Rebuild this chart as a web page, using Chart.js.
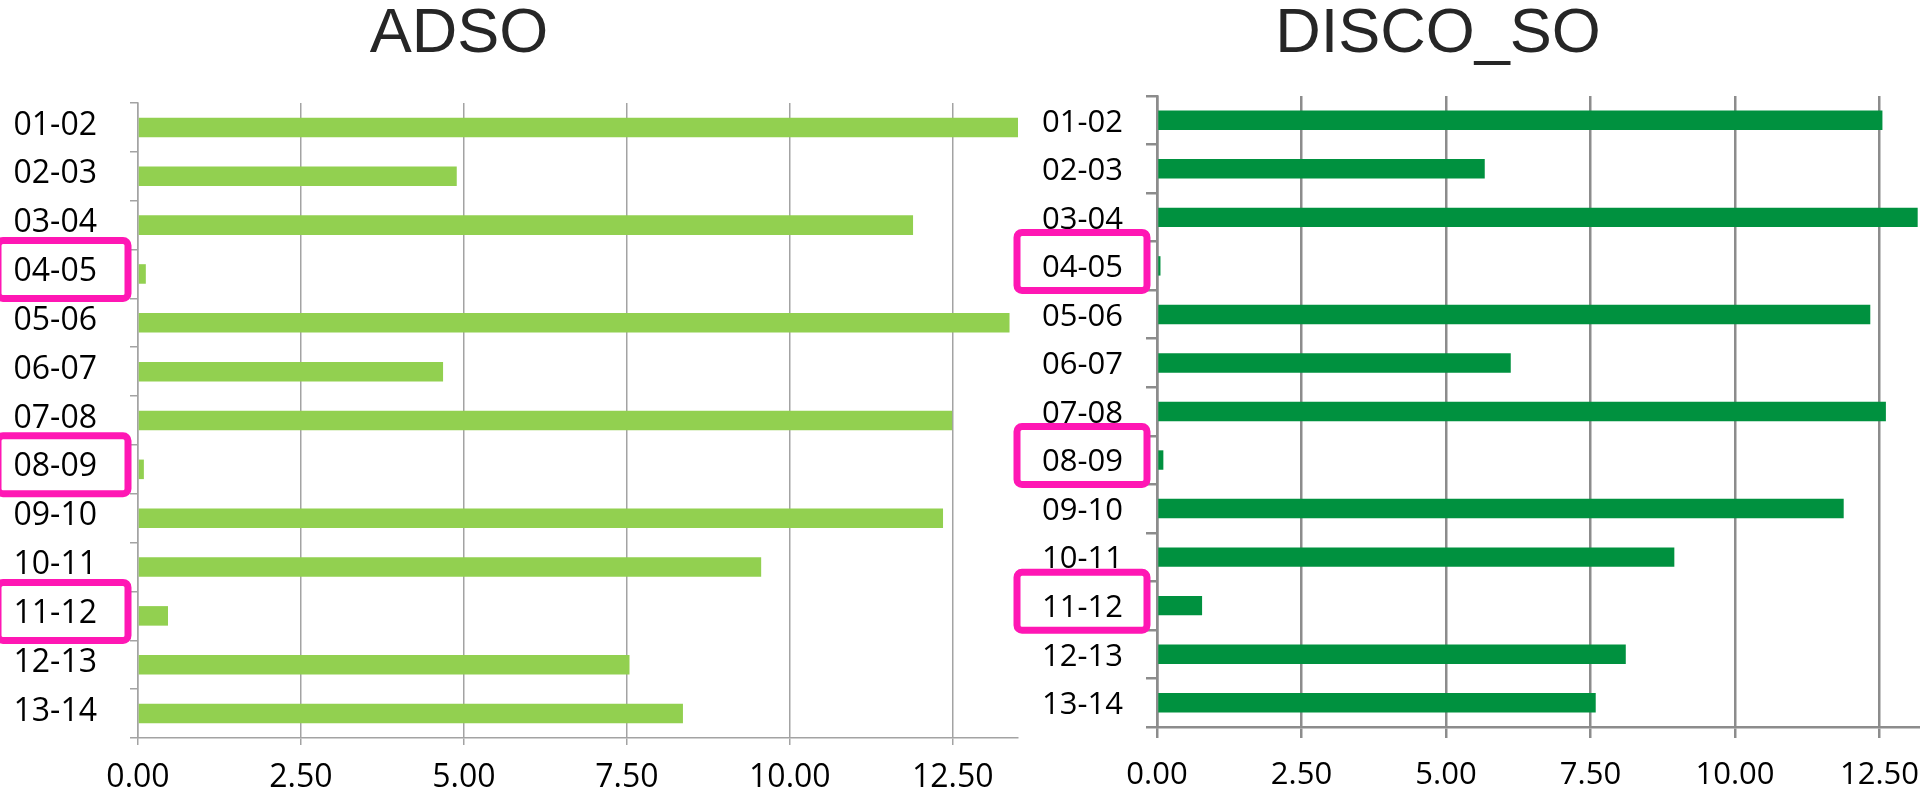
<!DOCTYPE html>
<html>
<head>
<meta charset="utf-8">
<script src="https://cdn.jsdelivr.net/npm/chart.js@4.4.1/dist/chart.umd.min.js"></script>
<style>
  html, body { margin: 0; padding: 0; background: #ffffff; width: 1920px; height: 792px; overflow: hidden; }
  .panel { position: absolute; top: 0; height: 792px; }
  #panelA { left: -100px; width: 1130px; }
  #panelB { left: 956px; width: 964px; }
</style>
</head>
<body>
<div class="panel" id="panelA"><canvas id="adsoChart" width="1130" height="792"></canvas></div>
<div class="panel" id="panelB"><canvas id="discoChart" width="964" height="792"></canvas></div>
<script>
// School years shown on both panels
const periods = ['01-02', '02-03', '03-04', '04-05', '05-06', '06-07', '07-08',
                 '08-09', '09-10', '10-11', '11-12', '12-13', '13-14'];

// Yearly values per series
const adsoValues  = [13.51, 4.89, 11.89, 0.12, 13.37, 4.68, 12.49, 0.09, 12.35, 9.56, 0.46, 7.54, 8.36];
const discoValues = [12.55, 5.67, 13.16, 0.06, 12.34, 6.12, 12.61, 0.11, 11.88, 8.95, 0.78, 8.11, 7.59];

// Value-axis tick labels
const valueTicks = [0, 2.5, 5, 7.5, 10, 12.5];

// Years outlined on both panels
const flaggedPeriods = ['04-05', '08-09', '11-12'];

Chart.defaults.font.family = "'Open Sans', sans-serif";
Chart.defaults.color = '#000000';

// Outlines selected category labels with a rounded frame
const flagBoxes = {
  id: 'flagBoxes',
  afterDraw(chart, args, opts) {
    const { ctx, chartArea } = chart;
    const y = chart.scales.y;
    const lw = opts.lineWidth;
    ctx.save();
    ctx.strokeStyle = opts.color;
    ctx.lineWidth = lw;
    ctx.lineJoin = 'round';
    opts.labels.forEach(lbl => {
      const i = chart.data.labels.indexOf(lbl);
      if (i < 0) return;
      const cy = y.getPixelForValue(i);
      const right = chartArea.left - opts.gap;
      const left = right - opts.width;
      const top = cy - opts.above;
      ctx.beginPath();
      ctx.roundRect(left + lw / 2, top + lw / 2, opts.width - lw, opts.height - lw, opts.radius);
      ctx.stroke();
    });
    ctx.restore();
  }
};

function makePanel(canvasId, title, values, s) {
  return new Chart(document.getElementById(canvasId), {
    type: 'bar',
    data: {
      labels: periods,
      datasets: [{
        label: title,
        data: values,
        backgroundColor: s.barColor,
        borderWidth: 0,
        categoryPercentage: 1,
        barPercentage: 0.4
      }]
    },
    options: {
      indexAxis: 'y',
      responsive: false,
      animation: false,
      layout: { padding: { left: 0, top: 0, bottom: 0, right: s.rightPad } },
      plugins: {
        legend: { display: false },
        tooltip: { enabled: false },
        title: {
          display: true,
          text: title,
          color: '#262626',
          font: { family: "'Liberation Sans', Arial, sans-serif", size: 63, weight: 'normal', lineHeight: 1 },
          padding: { top: 3, bottom: s.titleGap }
        },
        flagBoxes: {
          labels: flaggedPeriods,
          color: '#FF17B4',
          lineWidth: 7,
          width: 137,
          height: 65,
          above: 37,
          gap: 6.5,
          radius: 5
        }
      },
      scales: {
        x: {
          type: 'linear',
          min: 0,
          max: s.xMax,
          bounds: 'data',
          afterBuildTicks(scale) { scale.ticks = valueTicks.map(v => ({ value: v })); },
          afterFit(scale) {
            scale.height = s.xAxisHeight;
            scale.paddingLeft = 0;
            scale.paddingRight = 0;
          },
          grid: {
            color: s.gridColor,
            lineWidth: s.gridWidth,
            drawTicks: true,
            tickLength: s.xTickLen,
            tickColor: s.gridColor
          },
          border: { display: true, color: s.gridColor, width: s.gridWidth },
          ticks: {
            padding: s.xTickPad,
            maxRotation: 0,
            autoSkip: false,
            font: { size: s.xFont },
            color: '#000000',
            callback: v => Number(v).toFixed(2)
          }
        },
        y: {
          type: 'category',
          afterFit(scale) {
            scale.width = s.yAxisWidth;
            scale.paddingTop = 0;
            scale.paddingBottom = 0;
          },
          grid: {
            offset: true,
            drawOnChartArea: false,
            drawTicks: true,
            tickLength: s.yTickLen,
            color: s.gridColor,
            lineWidth: s.gridWidth
          },
          border: { display: true, color: s.gridColor, width: s.gridWidth },
          ticks: {
            padding: s.yTickPad,
            labelOffset: s.yLabelOffset,
            autoSkip: false,
            font: { size: s.yFont },
            color: '#000000'
          }
        }
      }
    },
    plugins: [flagBoxes]
  });
}

makePanel('adsoChart', 'ADSO', adsoValues, {
  barColor: '#92D050',
  xMax: 13.5,
  rightPad: 12,
  titleGap: 37,
  xAxisHeight: 54,
  yAxisWidth: 238,
  gridColor: '#A3A3A3',
  gridWidth: 1.5,
  xTickLen: 7,
  yTickLen: 8,
  xTickPad: 14,
  yTickPad: 33,
  yLabelOffset: -2,
  xFont: 32,
  yFont: 32
});

makePanel('discoChart', 'DISCO_SO', discoValues, {
  barColor: '#00913F',
  xMax: 13.2,
  rightPad: 0,
  titleGap: 30,
  xAxisHeight: 65,
  yAxisWidth: 201,
  gridColor: '#8C8C8C',
  gridWidth: 2.5,
  xTickLen: 11,
  yTickLen: 11,
  xTickPad: 19,
  yTickPad: 23,
  yLabelOffset: 2.5,
  xFont: 31,
  yFont: 31
});
</script>
</body>
</html>
